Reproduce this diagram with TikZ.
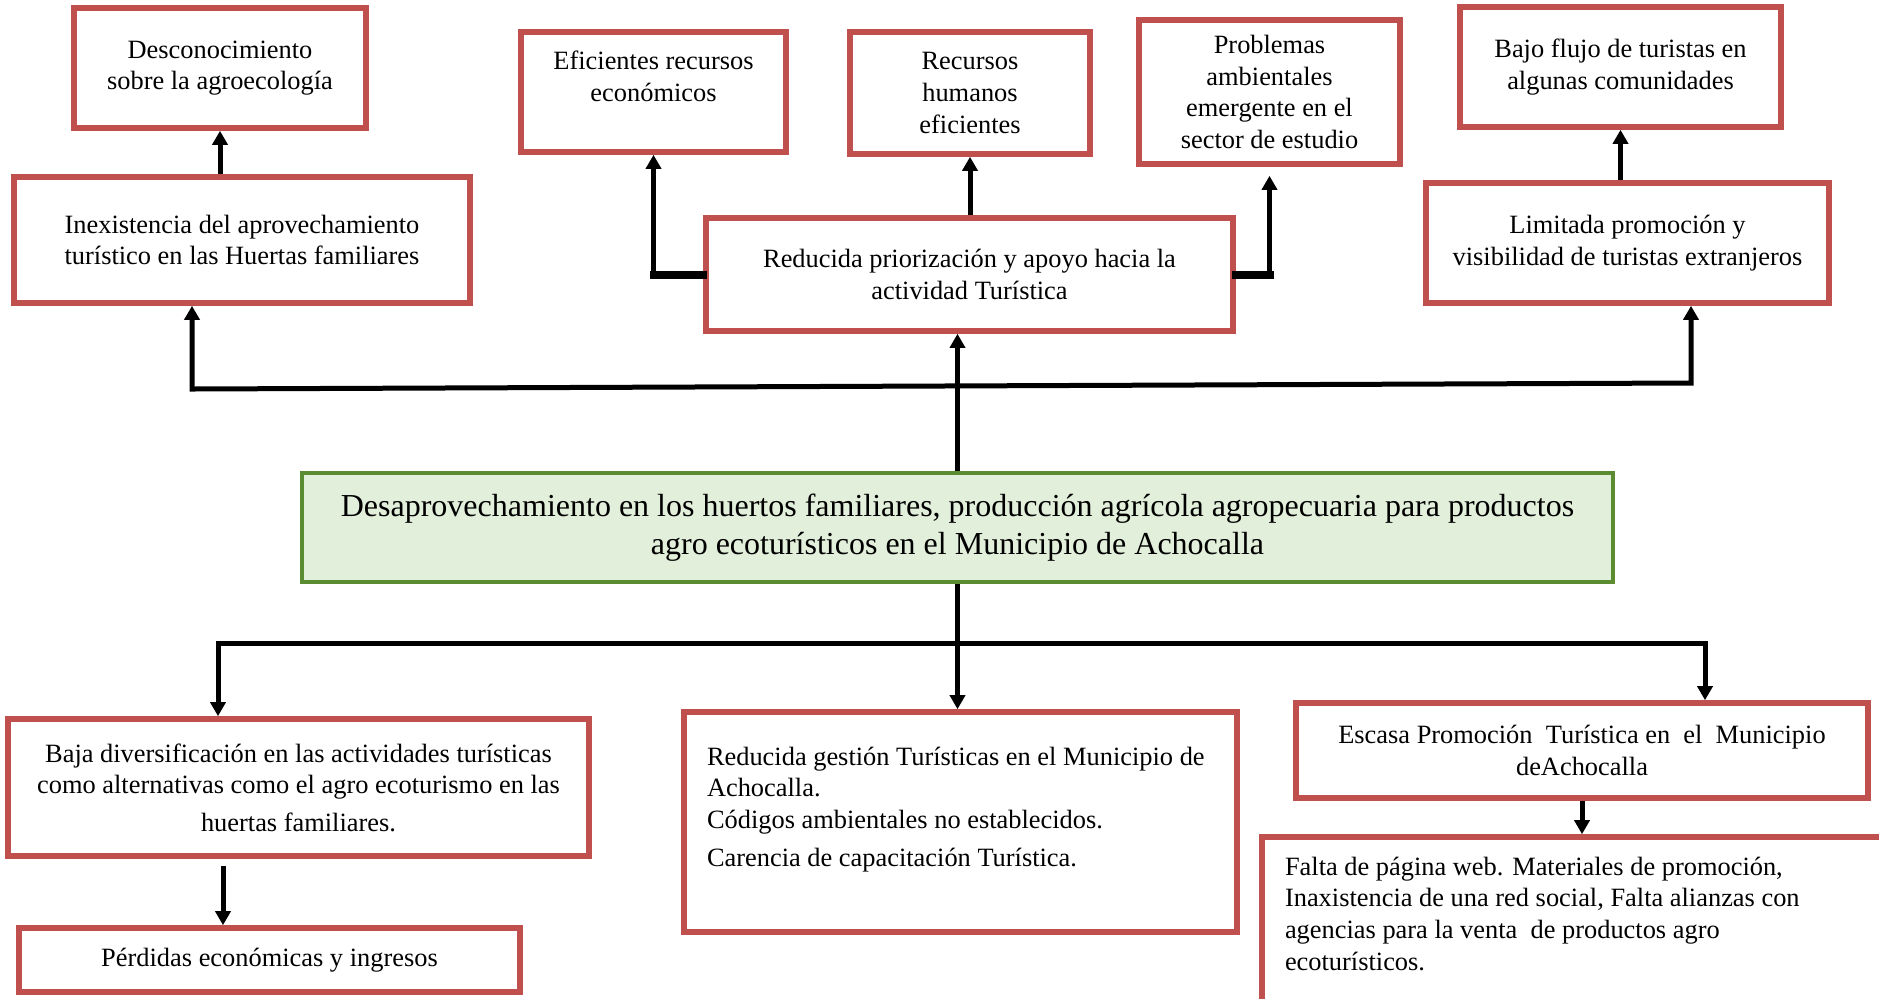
\documentclass[tikz,border=0pt]{standalone}
\usepackage{fontspec}
\setmainfont{Liberation Serif}
\usetikzlibrary{calc, arrows.meta}
\definecolor{boxred}{HTML}{C0504D}
\definecolor{boxgreen}{HTML}{5B8C32}
\definecolor{fillgreen}{HTML}{E2EFDA}
\tikzstyle{box} = [draw=boxred, line width=2.8pt, fill=white, align=center, inner sep=0pt, font={\fontsize{13.2}{15.8}\selectfont}]
\tikzstyle{mainbox} = [draw=boxgreen, line width=2.2pt, fill=fillgreen, align=center, inner sep=0pt, font={\fontsize{16}{19}\selectfont}]
\tikzstyle{link} = [line width=2.5pt]
\tikzstyle{thickline} = [line width=4pt, line cap=rect]

\begin{document}
\begin{tikzpicture}[x=0.5pt, y=-0.5pt, >={Triangle[length=7pt,width=7.5pt]}]
 		\path[use as bounding box, clip] (0,0) rectangle (1879,998);
 		\fill[white] (0,0) rectangle (1879,998);

 		\node[box, minimum width=146pt, minimum height=60pt] (desc) at (220,68) {Desconocimiento\\ sobre la agroecología};
 		\node[box, minimum width=228pt, minimum height=63pt] (inex) at (242,240) {Inexistencia del aprovechamiento\\ turístico en las Huertas familiares};
 		\node[box, minimum width=132.5pt, minimum height=60pt] (efic) at (653.5,92) {Eficientes recursos\\ económicos\\ \mbox{}};
 		\node[box, minimum width=120pt, minimum height=61pt] (hum) at (970,93) {Recursos\\ humanos\\ eficientes};
 		\node[box, minimum width=130.5pt, minimum height=72pt] (prob) at (1269.5,92) {Problemas\\ ambientales\\ emergente en el\\ sector de estudio};
 		\node[box, minimum width=160.5pt, minimum height=60pt] (bajo) at (1620.5,67) {Bajo flujo de turistas en\\ algunas comunidades};
 		\node[box, minimum width=263.5pt, minimum height=56.5pt] (prior) at (969.5,274.5) {Reducida priorización y apoyo hacia la\\ actividad Turística};
 		\node[box, minimum width=201.5pt, minimum height=60pt] (lim) at (1627.5,243) {Limitada promoción y\\ visibilidad de turistas extranjeros};

 		\node[mainbox, minimum width=655.5pt, minimum height=54.5pt] (cent) at (957.5,527.5) {Desaprovechamiento en los huertos familiares, producción agrícola agropecuaria para productos\\ agro ecoturísticos en el Municipio de Achocalla};

 		\node[box, minimum width=290.5pt, minimum height=68.5pt] (baja) at (298.5,787.5) {Baja diversificación en las actividades turísticas\\ como alternativas como el agro ecoturismo en las\\[3pt] huertas familiares.};
 		\node[box, minimum width=250.5pt, minimum height=32pt] (perd) at (269.5,960) {Pérdidas económicas y ingresos};
 		\node[box, inner xsep=11.5pt, inner ysep=17.5pt] (gest) at (960.5,822) {\parbox[c][75pt][t]{253.5pt}{\raggedright Reducida gestión Turísticas en el Municipio de\\ Achocalla.\\ Códigos ambientales no establecidos.\\[3pt] Carencia de capacitación Turística.}};
 		\node[box, minimum width=286pt, minimum height=47.5pt] (escasa) at (1582,750.5) {Escasa Promoción\ \ Turística en\ \ el\ \ Municipio\\ deAchocalla};
 		\node[box, inner xsep=11.5pt, inner ysep=10pt] (falta) at (1577,924.5) {\parbox[c][67.5pt][t]{292pt}{\raggedright Falta de página web. Materiales de promoción,\\ Inaxistencia de una red social, Falta alianzas con\\ agencias para la venta\ \ de productos agro\\ ecoturísticos.}};

 		\coordinate (busl) at (192,389);
 		\coordinate (busr) at (1691,383);
 		\draw[link, <->] (busl |- inex.south) -- (busl) -- (busr) -- (busr |- lim.south);
 		\draw[link, ->] (cent.north) -- (cent.north |- prior.south);
 		\draw[link, ->] (desc.south |- inex.north) -- (desc.south);
 		\draw[thickline] (prior.west) -- (prior.west -| efic.south);
 		\draw[link, ->] (prior.west -| efic.south) -- (efic.south);
 		\draw[link, ->] (hum.south |- prior.north) -- (hum.south);
 		\draw[thickline] (prior.east) -- (prior.east -| prob.south);
 		\draw[link, ->, shorten >=4.5pt] (prior.east -| prob.south) -- (prob.south);
 		\draw[link, ->] (bajo.south |- lim.north) -- (bajo.south);

 		\coordinate (busbl) at (218,643);
 		\coordinate (busbr) at (1705,643);
 		\coordinate (perdx) at (223,0);
 		\draw[link, <->] (busbl |- baja.north) -- (busbl) -- (busbr) -- (busbr |- escasa.north);
 		\draw[link, ->] (cent.south) -- (cent.south |- gest.north);
 		\draw[link, ->, shorten <=3.5pt] (baja.south -| perdx) -- (perd.north -| perdx);
 		\draw[link, ->] (escasa.south) -- (escasa.south |- falta.north);
\end{tikzpicture}
\end{document}
